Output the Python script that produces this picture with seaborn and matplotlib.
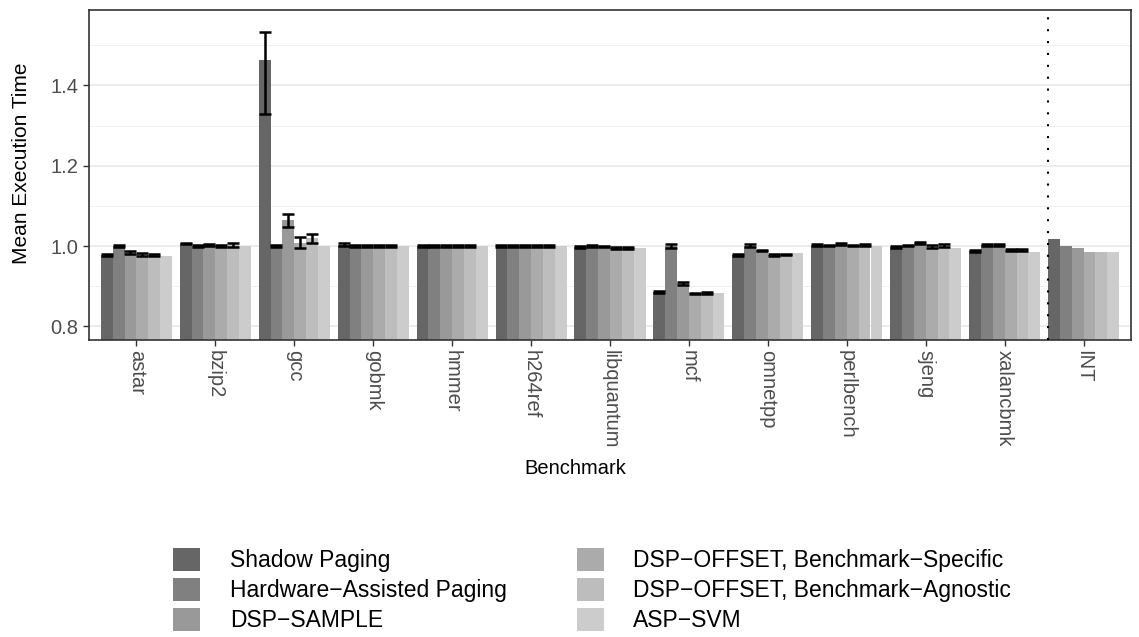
import numpy as np
import pandas as pd
import seaborn as sns
import matplotlib
matplotlib.use("Agg")
import matplotlib.pyplot as plt
from matplotlib.patches import Patch

benchmarks = ["astar", "bzip2", "gcc", "gobmk", "hmmer", "h264ref", "libquantum",
              "mcf", "omnetpp", "perlbench", "sjeng", "xalancbmk", "INT"]
configs = ["Shadow Paging", "Hardware\u2212Assisted Paging", "DSP\u2212SAMPLE",
           "DSP\u2212OFFSET, Benchmark\u2212Specific", "DSP\u2212OFFSET, Benchmark\u2212Agnostic",
           "ASP\u2212SVM"]
colors = ["#666666", "#808080", "#999999", "#ababab", "#bdbdbd", "#cccccc"]

shadow   = [0.978, 1.006, 1.463, 1.003, 1.000, 1.000, 0.997, 0.886, 0.978, 1.002, 0.998, 0.987, 1.017]
hap      = [1.000, 1.000, 1.000, 1.000, 1.000, 1.000, 1.000, 1.000, 1.001, 1.001, 1.001, 1.002, 1.000]
sample   = [0.984, 1.003, 1.064, 1.000, 1.000, 1.000, 0.999, 0.907, 0.989, 1.005, 1.008, 1.002, 0.995]
specific = [0.979, 1.000, 1.008, 1.000, 1.000, 1.000, 0.995, 0.882, 0.977, 1.001, 0.999, 0.990, 0.985]
agnostic = [0.977, 1.002, 1.019, 1.000, 1.000, 1.000, 0.995, 0.883, 0.979, 1.003, 1.001, 0.990, 0.985]
svm      = [0.975, 1.000, 1.000, 1.000, 1.000, 1.000, 0.994, 0.883, 0.983, 1.000, 0.996, 0.985, 0.985]

# error bar half-lengths (below / above the bar top)
shadow_err_lo = [0.002, 0.002, 0.134, 0.004, 0.002, 0.002, 0.002, 0.002, 0.002, 0.002, 0.002, 0.002, np.nan]
shadow_err_hi = [0.002, 0.002, 0.070, 0.004, 0.002, 0.002, 0.002, 0.002, 0.002, 0.002, 0.002, 0.002, np.nan]
hap_err       = [0.002, 0.002, 0.003, 0.002, 0.002, 0.002, 0.002, 0.006, 0.003, 0.002, 0.002, 0.002, np.nan]
sample_err    = [0.003, 0.002, 0.016, 0.002, 0.002, 0.002, 0.002, 0.003, 0.002, 0.002, 0.002, 0.002, np.nan]
specific_err  = [0.003, 0.002, 0.014, 0.002, 0.002, 0.002, 0.002, 0.002, 0.002, 0.002, 0.004, 0.002, np.nan]
agnostic_err  = [0.002, 0.005, 0.011, 0.002, 0.002, 0.002, 0.002, 0.002, 0.002, 0.002, 0.004, 0.002, np.nan]
svm_err       = [np.nan] * 13

values = [shadow, hap, sample, specific, agnostic, svm]
err_lo = [shadow_err_lo, hap_err, sample_err, specific_err, agnostic_err, svm_err]
err_hi = [shadow_err_hi, hap_err, sample_err, specific_err, agnostic_err, svm_err]

rows = []
for c, vals, lo, hi in zip(configs, values, err_lo, err_hi):
    for b, v, l, h in zip(benchmarks, vals, lo, hi):
        rows.append({"Benchmark": b, "Config": c, "Value": v, "Lo": l, "Hi": h})
df = pd.DataFrame(rows)

sns.set_theme(style="white")
plt.rcParams['font.family'] = ['Liberation Sans', 'DejaVu Sans']

fig = plt.figure(figsize=(11.39, 6.37), dpi=100)
ax = fig.add_axes([89/1139, 1 - 340/637, (1131 - 89)/1139, 330/637])

sns.barplot(data=df, x="Benchmark", y="Value", hue="Config", order=benchmarks,
            hue_order=configs, palette=colors, width=0.9, errorbar=None,
            saturation=1, linewidth=0, ax=ax, legend=False, zorder=2)

for c, bars in zip(configs, ax.containers):
    sub = df[df.Config == c].set_index("Benchmark").loc[benchmarks]
    xs = [p.get_x() + p.get_width() / 2 for p in bars.patches]
    ax.errorbar(xs, sub.Value.values, yerr=[sub.Lo.values, sub.Hi.values], fmt="none",
                ecolor="black", elinewidth=1.8, capsize=4.2, capthick=1.8, zorder=3)

ax.set_xlim(-0.6, len(benchmarks) - 0.4)
ax.set_ylim(0.766, 1.588)
ax.set_yticks([0.8, 1.0, 1.2, 1.4])
ax.set_yticklabels(["0.8", "1.0", "1.2", "1.4"])
ax.set_yticks([0.9, 1.1, 1.3, 1.5], minor=True)
ax.grid(axis="y", which="major", color="#ebebeb", linewidth=1.3, zorder=0)
ax.grid(axis="y", which="minor", color="#f0f0f0", linewidth=0.7, zorder=0)
ax.set_axisbelow(True)
ax.axvline(11.55, color="black", linestyle=(0, (1, 4.7)), linewidth=1.5, zorder=4)

for s in ax.spines.values():
    s.set_color("#333333")
    s.set_linewidth(1.2)
ax.tick_params(axis="both", which="major", length=4.5, width=1, color="#333333",
               labelsize=14.5, labelcolor="#4d4d4d", bottom=True, left=True, pad=3)
ax.tick_params(axis="both", which="minor", length=0)
plt.setp(ax.get_xticklabels(), rotation=-90, va="top", ha="center")
ax.set_xlabel("Benchmark", fontsize=14.5, color="black", va="center")
ax.xaxis.set_label_coords((575 - 89) / 1042, (340 - 468) / 330)
ax.set_ylabel("Mean Execution Time", fontsize=15, color="black", va="center")
ax.yaxis.set_label_coords((22 - 89) / 1042, 0.535)

handles = [Patch(facecolor=col, edgecolor="none", label=lab) for col, lab in zip(colors, configs)]
leg = fig.legend(handles=handles, loc="upper left", bbox_to_anchor=(173/1139, 1 - 548/637),
                 ncol=2, frameon=False, fontsize=16.5, handlelength=1.18, handleheight=1.18,
                 labelspacing=0.24, handletextpad=1.3, columnspacing=3.05, borderpad=0,
                 borderaxespad=0)
for t in leg.get_texts():
    t.set_color("black")

fig.savefig("out.png", dpi=100)
